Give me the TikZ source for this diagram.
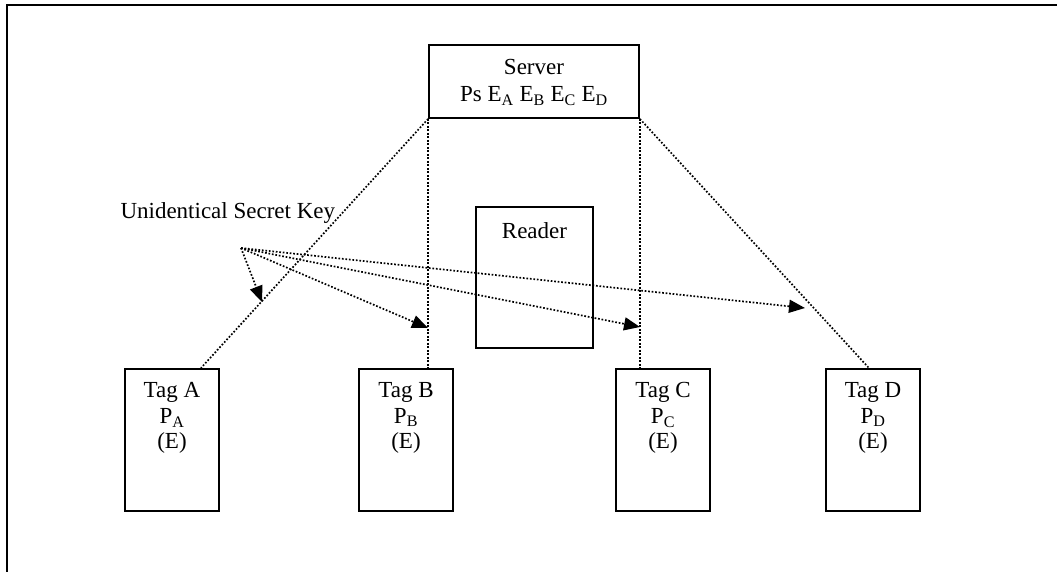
\documentclass[tikz,border=0pt]{standalone}
\usepackage{fontspec}
\setmainfont{Liberation Serif}
\usetikzlibrary{arrows.meta}

\begin{document}
\begin{tikzpicture}[x=1pt,y=-1pt,
  font=\fontsize{23}{25.5}\selectfont,
  box/.style={draw,line width=1.8pt,inner sep=0pt},
  tagbox/.style={box,minimum width=94pt,minimum height=142pt},
  inside/.style={anchor=north,align=center,yshift=-11pt},
  link/.style={line width=1.7pt,dash pattern=on 1.7pt off 1.8pt},
  keyarrow/.style={link,-{Triangle[length=16pt,width=13pt]}}]
  \useasboundingbox (0,0) rectangle (1057,572);
  % outer frame (cut at right and bottom)
  \draw[line width=2pt] (7,572) -- (7,5) -- (1057,5);

  \node[box,minimum width=210pt,minimum height=73pt,
    label={[inside,yshift=-1pt,font=\fontsize{23}{27}\selectfont]north:Server\\Ps E\textsubscript{A} E\textsubscript{B} E\textsubscript{C} E\textsubscript{D}}]
    (server) at (534,81.5) {};
  \node[box,minimum width=117pt,minimum height=141pt,
    label={[inside,yshift=-2pt]north:Reader}] (reader) at (534.5,277.5) {};

  \node[tagbox,label={[inside]north:Tag A\\P\textsubscript{A}\\(E)}] (tagA) at (172,440) {};
  \node[tagbox,label={[inside]north:Tag B\\P\textsubscript{B}\\(E)}] (tagB) at (406,440) {};
  \node[tagbox,label={[inside]north:Tag C\\P\textsubscript{C}\\(E)}] (tagC) at (663,440) {};
  \node[tagbox,label={[inside]north:Tag D\\P\textsubscript{D}\\(E)}] (tagD) at (873,440) {};

  \node[anchor=west] (keytext) at (117,213) {Unidentical Secret Key};
  \coordinate (key) at (241,248);

  % server to tags
  \draw[link] (server.south west) -- ([xshift=-19pt]tagA.north east);
  \draw[link] (server.south west) -- (server.south west |- tagB.north);
  \draw[link] (server.south east) -- (server.south east |- tagC.north);
  \draw[link] (server.south east) -- ([xshift=-4pt]tagD.north);

  % secret keys
  \coordinate (kA) at (262,302);
  \coordinate (kB) at (428,328);
  \coordinate (kC) at (640,327);
  \coordinate (kD) at (805,308);
  \foreach \k in {kA,kB,kC,kD}
    \draw[keyarrow] (key) -- (\k);
\end{tikzpicture}
\end{document}
